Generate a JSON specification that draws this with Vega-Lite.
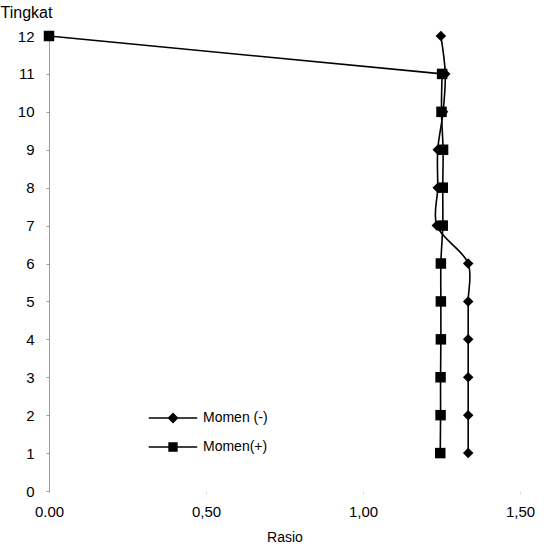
{
  "$schema": "https://vega.github.io/schema/vega-lite/v6.json",
  "width": 471,
  "height": 455,
  "autosize": "none",
  "padding": {"left": 49, "top": 36, "right": 30, "bottom": 60},
  "background": "white",
  "config": {
    "view": {"stroke": null},
    "font": "Liberation Sans",
    "axis": {"grid": false, "labelFont": "Liberation Sans", "titleFont": "Liberation Sans", "labelColor": "black", "titleColor": "black", "titleFontWeight": "normal"}
  },
  "data": {
    "values": [
      {"Seri": "Momen (-)", "Tingkat": 12, "Rasio": 1.248},
      {"Seri": "Momen (-)", "Tingkat": 11, "Rasio": 1.262},
      {"Seri": "Momen (-)", "Tingkat": 10, "Rasio": 1.255},
      {"Seri": "Momen (-)", "Tingkat": 9, "Rasio": 1.238},
      {"Seri": "Momen (-)", "Tingkat": 8, "Rasio": 1.238},
      {"Seri": "Momen (-)", "Tingkat": 7, "Rasio": 1.235},
      {"Seri": "Momen (-)", "Tingkat": 6, "Rasio": 1.335},
      {"Seri": "Momen (-)", "Tingkat": 5, "Rasio": 1.335},
      {"Seri": "Momen (-)", "Tingkat": 4, "Rasio": 1.335},
      {"Seri": "Momen (-)", "Tingkat": 3, "Rasio": 1.335},
      {"Seri": "Momen (-)", "Tingkat": 2, "Rasio": 1.335},
      {"Seri": "Momen (-)", "Tingkat": 1, "Rasio": 1.335},
      {"Seri": "Momen(+)", "Tingkat": 12, "Rasio": 0.0},
      {"Seri": "Momen(+)", "Tingkat": 11, "Rasio": 1.252},
      {"Seri": "Momen(+)", "Tingkat": 10, "Rasio": 1.25},
      {"Seri": "Momen(+)", "Tingkat": 9, "Rasio": 1.255},
      {"Seri": "Momen(+)", "Tingkat": 8, "Rasio": 1.254},
      {"Seri": "Momen(+)", "Tingkat": 7, "Rasio": 1.254},
      {"Seri": "Momen(+)", "Tingkat": 6, "Rasio": 1.248},
      {"Seri": "Momen(+)", "Tingkat": 5, "Rasio": 1.248},
      {"Seri": "Momen(+)", "Tingkat": 4, "Rasio": 1.248},
      {"Seri": "Momen(+)", "Tingkat": 3, "Rasio": 1.247},
      {"Seri": "Momen(+)", "Tingkat": 2, "Rasio": 1.247},
      {"Seri": "Momen(+)", "Tingkat": 1, "Rasio": 1.246}
    ]
  },
  "encoding": {
    "x": {
      "field": "Rasio", "type": "quantitative",
      "scale": {"domain": [0, 1.5], "nice": false, "zero": false},
      "axis": {
        "values": [0, 0.5, 1, 1.5],
        "labelExpr": "datum.value == 0 ? '0.00' : replace(format(datum.value, '.2f'), '.', ',')",
        "labelFontSize": 15, "labelPadding": 10, "labelFlush": false,
        "domain": false, "tickColor": "#dddddd", "tickSize": 3,
        "title": "Rasio", "titleFontSize": 14, "titlePadding": 11
      }
    },
    "y": {
      "field": "Tingkat", "type": "quantitative",
      "scale": {"domain": [0, 12], "nice": false},
      "axis": {
        "values": [0,1,2,3,4,5,6,7,8,9,10,11,12],
        "labelFontSize": 15, "labelPadding": 12, "labelFlush": false,
        "domainColor": "#999999", "domainWidth": 1,
        "tickColor": "#999999", "tickSize": 3,
        "title": "Tingkat", "titleAngle": 0, "titleFontSize": 16,
        "titleAlign": "left", "titleBaseline": "middle",
        "titleX": -49, "titleY": -24
      }
    }
  },
  "resolve": {"scale": {"shape": "independent"}, "legend": {"shape": "independent"}},
  "layer": [
    {
      "transform": [{"filter": "!(datum.Seri == 'Momen(+)' && datum.Tingkat == 12)"}],
      "mark": {"type": "line", "interpolate": "catmull-rom", "color": "black", "strokeWidth": 1.6},
      "encoding": {
        "detail": {"field": "Seri"},
        "order": {"field": "Tingkat", "type": "quantitative", "sort": "descending"}
      }
    },
    {
      "transform": [{"filter": "datum.Seri == 'Momen(+)' && datum.Tingkat >= 11"}],
      "mark": {"type": "line", "color": "black", "strokeWidth": 1.6},
      "encoding": {
        "order": {"field": "Tingkat", "type": "quantitative", "sort": "descending"}
      }
    },
    {
      "mark": {"type": "point", "filled": true, "color": "black", "opacity": 1, "size": 110},
      "encoding": {
        "shape": {
          "field": "Seri", "type": "nominal",
          "scale": {"domain": ["Momen (-)", "Momen(+)"], "range": ["diamond", "square"]},
          "legend": null
        }
      }
    },
    {
      "mark": {"type": "point", "filled": true, "color": "black", "opacity": 0, "size": 110},
      "encoding": {
        "shape": {
          "field": "Seri", "type": "nominal",
          "scale": {"domain": ["Momen (-)", "Momen(+)"], "range": ["M-4.4,-0.13L4.4,-0.13L4.4,0.13L-4.4,0.13Z M0,-1L1,0L0,1L-1,0Z", "M-4.4,-0.13L4.4,-0.13L4.4,0.13L-4.4,0.13Z M-0.85,-0.85L0.85,-0.85L0.85,0.85L-0.85,0.85Z"]},
          "legend": {
            "title": null,
            "orient": "none",
            "legendX": 117,
            "legendY": 375,
            "symbolSize": 121,
            "symbolOpacity": 1,
            "symbolFillColor": "black",
            "symbolStrokeColor": "black",
            "symbolStrokeWidth": 0,
            "labelFontSize": 14,
            "labelFont": "Liberation Sans",
            "labelColor": "black",
            "labelOffset": 23,
            "rowPadding": 15
          }
        }
      }
    }
  ]
}
